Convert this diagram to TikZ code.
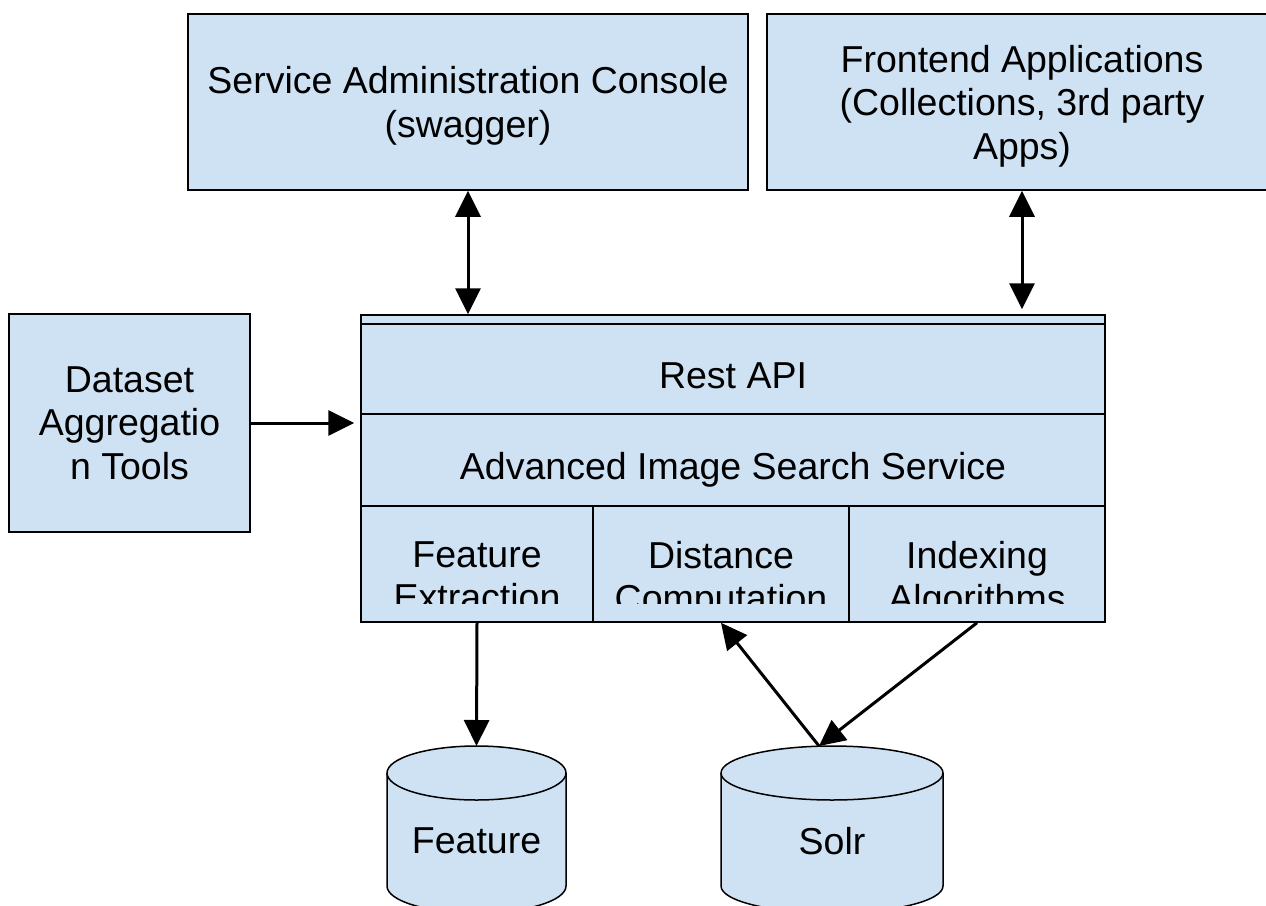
\documentclass[tikz,border=0pt]{standalone}
\usepackage{fontspec}
\setmainfont{Liberation Sans}
\usepackage{xcolor}
\usetikzlibrary{arrows.meta}
\definecolor{boxblue}{HTML}{CFE2F3}
\newcommand{\diagfont}{\fontsize{37.5}{43.5}\selectfont}
% struts that set where a one-line text sits in its band
\newcommand{\topstrut}[1]{\rule[-8pt]{0pt}{#1}}
\newcommand{\botstrut}{\rule[-8pt]{0pt}{8pt}}

\begin{document}
\begin{tikzpicture}[
    x=1pt, y=-1pt,
    cell/.style={draw=black, line width=1.5pt, fill=boxblue, inner sep=0pt},
    box/.style={cell, align=center, font=\diagfont, text depth=-2pt},
    band/.style={cell, align=center, font=\diagfont,
                 execute at begin node=\topstrut{54pt},
                 execute at end node=\botstrut},
    lbl/.style={font=\diagfont, align=center, inner sep=0pt},
    db/.style={draw=black, line width=1.5pt, fill=boxblue},
    arrow/.style={line width=3pt, -{Triangle[length=26pt,width=25pt]}},
    biarrow/.style={line width=3pt,
                    {Triangle[length=26pt,width=25pt]}-{Triangle[length=26pt,width=25pt]}},
  ]
  \useasboundingbox (0,0) rectangle (1266,905);

  % clients on top
  \node[box, minimum width=560pt, minimum height=176pt] (console) at (468,102)
    {Service Administration Console\\(swagger)};
  \node[box, minimum width=510pt, minimum height=176pt] (frontend) at (1022,102)
    {Frontend Applications\\(Collections, 3rd party\\Apps)};
  \node[box, minimum width=241pt, minimum height=218pt] (dataset) at (129.5,423)
    {Dataset\\Aggregatio\\n Tools};

  % service stack
  \node[cell, minimum width=744pt, minimum height=307pt] (mainbox) at (733,468.5) {};
  \node[band, minimum width=744pt, minimum height=90pt] (rest) at (733,369) {Rest API};
  \node[band, minimum width=744pt, minimum height=92pt] (aiss) at (733,460)
    {Advanced Image Search Service};
  \node[cell, minimum width=232pt, minimum height=116pt] (featx) at (477,564) {};
  \node[cell, minimum width=256pt, minimum height=116pt] (distc) at (721,564) {};
  \node[cell, minimum width=256pt, minimum height=116pt] (indexalg) at (977,564) {};

  % module names, cut off by the text frame
  \begin{scope}
    \clip (361,506) rectangle (1105,603);
    \node[lbl, anchor=north] (featxtxt) at (477,541) {Feature\\Extraction};
    \node[lbl, anchor=north] (distctxt) at (721,541) {Distance\\Computation};
    \node[lbl, anchor=north] (indexalgtxt) at (977,541) {Indexing\\Algorithms};
  \end{scope}

  % storage cylinders
  \foreach \nm/\cx/\rx/\txt in {featdb/476.5/89.5/Feature, solrdb/832/111/Solr}{
    \filldraw[db] (\cx-\rx,773) -- (\cx-\rx,886)
      arc[start angle=180, end angle=0, x radius=\rx, y radius=27]
      -- (\cx+\rx,773)
      arc[start angle=0, end angle=-180, x radius=\rx, y radius=27] -- cycle;
    \draw[db, fill=none] (\cx-\rx,773)
      arc[start angle=180, end angle=0, x radius=\rx, y radius=27];
    \node[lbl] (\nm) at (\cx,841) {\txt};
  }
  \coordinate (featdbtop) at (476.5,746);
  \coordinate (solrtop) at (819,746);

  % connectors
  \draw[biarrow] (console.south) -- (console.south |- mainbox.north);
  \draw[biarrow] (frontend.south) -- ([yshift=5pt]frontend.south |- mainbox.north);
  \draw[arrow, shorten >=6pt] (dataset.east) -- (dataset.east -| mainbox.west);
  \draw[arrow] (featx.south) -- (featdbtop);
  \draw[arrow] (solrtop) -- (distc.south);
  \draw[arrow] (indexalg.south) -- (solrtop);
\end{tikzpicture}
\end{document}
